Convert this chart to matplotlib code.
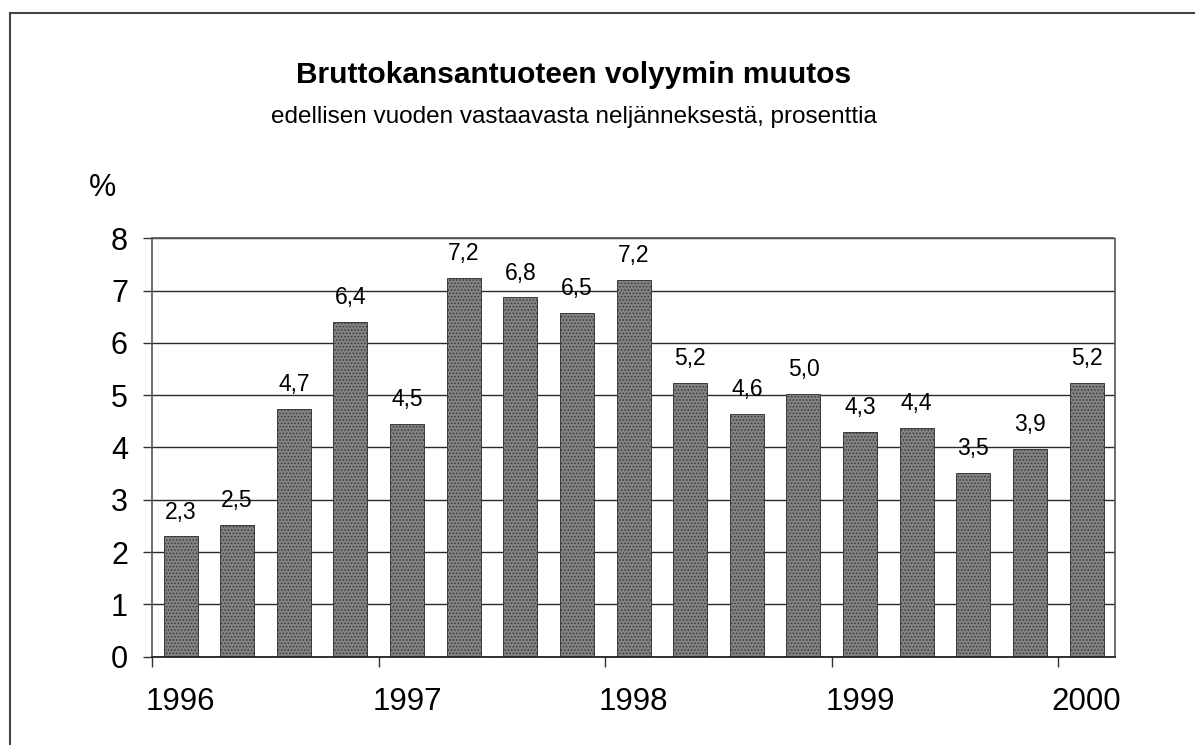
import matplotlib
matplotlib.use('Agg')
import matplotlib.pyplot as plt
from matplotlib.lines import Line2D
import numpy as np

# quarterly GDP volume change, % from same quarter of previous year
quarters = ['1996Q1', '1996Q2', '1996Q3', '1996Q4',
            '1997Q1', '1997Q2', '1997Q3', '1997Q4',
            '1998Q1', '1998Q2', '1998Q3', '1998Q4',
            '1999Q1', '1999Q2', '1999Q3', '1999Q4',
            '2000Q1']
heights = [2.30, 2.52, 4.74, 6.40, 4.45, 7.24, 6.87, 6.57, 7.20,
           5.24, 4.64, 5.02, 4.30, 4.38, 3.51, 3.97, 5.24]
value_labels = ['2,3', '2,5', '4,7', '6,4', '4,5', '7,2', '6,8', '6,5', '7,2',
                '5,2', '4,6', '5,0', '4,3', '4,4', '3,5', '3,9', '5,2']
year_labels = ['1996', '1997', '1998', '1999', '2000']

plt.rcParams['font.family'] = ['Liberation Sans', 'DejaVu Sans']
plt.rcParams['hatch.color'] = '#1e1e1e'
plt.rcParams['hatch.linewidth'] = 0.7

fig = plt.figure(figsize=(11.95, 7.45), dpi=100)
ax = fig.add_axes([0.1274, 0.1185, 0.8056, 0.5617])

x = np.arange(len(quarters))
ax.bar(x, heights, width=0.6, color='#828282', edgecolor='#3a3a3a',
       linewidth=0.7, hatch='.....', zorder=3)

for xi, h, lab in zip(x, heights, value_labels):
    ax.annotate(lab, (xi, h), xytext=(0, 12.7), textcoords='offset points',
                ha='center', va='baseline', fontsize=16.5)

ax.set_xlim(-0.5, len(quarters) - 0.5)
ax.set_ylim(0, 8)

# y axis
ax.set_yticks(range(0, 9))
ax.tick_params(axis='y', direction='out', length=6.5, width=1, pad=11,
               labelsize=22, color='#333333')
ax.grid(axis='y', color='#2a2a2a', linewidth=1.0, zorder=1)

# x axis: year ticks between quarters, labels under the first quarter
ax.set_xticks(np.arange(-0.5, len(quarters), 4))
ax.set_xticklabels([])
ax.set_xticks(np.arange(0, len(quarters), 4), minor=True)
ax.set_xticklabels(year_labels, minor=True)
ax.tick_params(axis='x', which='major', direction='out', length=7.5, width=1,
               color='#333333')
ax.tick_params(axis='x', which='minor', length=0, pad=22, labelsize=22.5)

for side in ['top', 'left', 'right']:
    ax.spines[side].set_linestyle((0, (1, 1)))
    ax.spines[side].set_color('#555555')
    ax.spines[side].set_linewidth(1.2)
ax.spines['bottom'].set_color('#222222')
ax.spines['bottom'].set_linewidth(1.3)
ax.spines['bottom'].set_zorder(4)

fig.text(0.480, 1 - 83 / 745, 'Bruttokansantuoteen volyymin muutos',
         ha='center', va='baseline', fontsize=21.5, fontweight='bold')
fig.text(0.480, 1 - 123 / 745,
         'edellisen vuoden vastaavasta neljänneksestä, prosenttia',
         ha='center', va='baseline', fontsize=17.5)
fig.text(102 / 1195, 1 - 188 / 745, '%', ha='center', va='center', fontsize=22)

# scanned page frame
fig.add_artist(Line2D([10 / 1195, 1], [1 - 13 / 745, 1 - 13 / 745],
                      transform=fig.transFigure, color='#444444', lw=1.5))
fig.add_artist(Line2D([10 / 1195, 10 / 1195], [0, 1 - 13 / 745],
                      transform=fig.transFigure, color='#444444', lw=1.5))

fig.savefig('out.png', dpi=100)
